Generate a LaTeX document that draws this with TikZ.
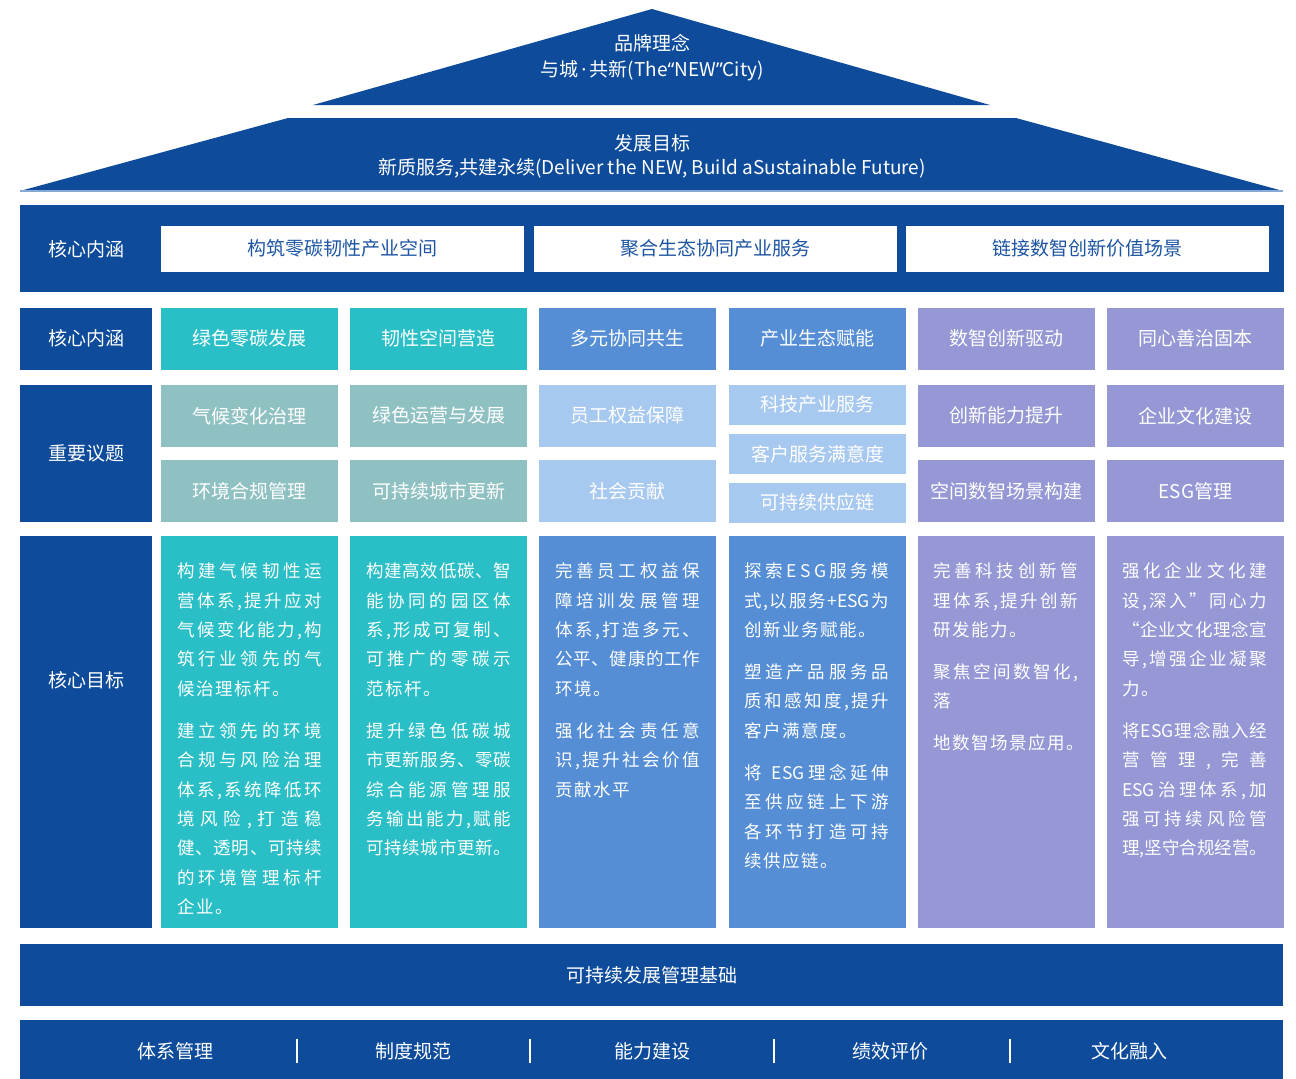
\documentclass[tikz,border=0pt]{standalone}
\usepackage{fontspec}
\setmainfont{Noto Sans CJK SC}
\newfontfamily\latinq{Noto Sans}
\definecolor{dblue}{HTML}{0E4C9B}
\definecolor{teal1}{HTML}{2ABFC6}
\definecolor{blue1}{HTML}{558ED5}
\definecolor{purp1}{HTML}{9598D5}
\definecolor{gteal}{HTML}{8FC1C3}
\definecolor{lblue}{HTML}{A7C8EF}
\definecolor{tblue}{HTML}{1D55A3}
\definecolor{edgeline}{HTML}{86A9D6}
\makeatletter
\def\jglue{\hskip 1.5pt plus 1fill minus 2.5pt}
\def\nglue{\hskip 1.5pt}
\newcommand\trk[2]{\let\trk@sep\relax\@tfor\trk@x:=#2\do{\trk@sep\trk@x\let\trk@sep#1}}
\newcommand\jfull[1]{\hbox to\hsize{\trk\jglue{#1}}}
\newcommand\jnat[1]{\hbox{\trk\nglue{#1}}}
\makeatother
\newcommand\pgap{\vskip 12.6pt}
\newcommand\myLq{{\latinq “}}
\newcommand\myRq{{\latinq ”}}
\newcommand\myDot{{\latinq\,·\,}}
\tikzset{
  shade1/.style={fill=dblue, draw=none},
  cell/.style={draw=none, inner sep=0, text=white, font=\fontsize{19}{22}\selectfont},
  labbox/.style={cell, fill=dblue, minimum width=132pt},
  colbox/.style={cell, minimum width=177pt},
  whitebox/.style={cell, fill=white, text=tblue, minimum height=45.5pt},
  lbl/.style={inner sep=0, text=white, font=\fontsize{19}{22}\selectfont},
  body/.style={inner sep=0, text=white, anchor=base west, font=\fontsize{17.5}{29.4}\selectfont},
  sepline/.style={draw=white, line width=1.3pt},
}
\begin{document}
\begin{tikzpicture}[x=1pt,y=-1pt]
\useasboundingbox (0,0) rectangle (1296,1079);
% roof
\fill[shade1] (652,9) -- (990,105) -- (313,105) -- cycle;
\node[lbl, align=center, font=\fontsize{19}{26}\selectfont] (brand) at (652,58) {品牌理念\\与城\myDot 共新(The\myLq NEW\myRq City)};
\fill[shade1] (288,118) -- (1016,118) -- (1283,191) -- (20,191) -- cycle;
\draw[edgeline, line width=1.2pt] (20,191) -- (1283,191);
\node[lbl, align=center, font=\fontsize{19}{24}\selectfont] (goal) at (652,156) {发展目标\\新质服务,共建永续(Deliver the NEW, Build aSustainable Future)};
% row 1
\node[cell, fill=dblue, minimum width=1264pt, minimum height=87pt] (row1) at (652,248.5) {};
\node[lbl] (row1lab) at (86,249) {核心内涵};
\node[whitebox, minimum width=363pt] (w1) at (342.5,248.75) {构筑零碳韧性产业空间};
\node[whitebox, minimum width=362.5pt] (w2) at (715.25,248.75) {聚合生态协同产业服务};
\node[whitebox, minimum width=363pt] (w3) at (1087.5,248.75) {链接数智创新价值场景};
% row 2
\node[labbox, minimum height=61.5pt] (r2lab) at (86,338.75) {核心内涵};
\node[colbox, fill=teal1, minimum height=61.5pt] (r2c1) at (249.5,338.75) {绿色零碳发展};
\node[colbox, fill=teal1, minimum height=61.5pt] (r2c2) at (438.5,338.75) {韧性空间营造};
\node[colbox, fill=blue1, minimum height=61.5pt] (r2c3) at (627.5,338.75) {多元协同共生};
\node[colbox, fill=blue1, minimum height=61.5pt] (r2c4) at (817.5,338.75) {产业生态赋能};
\node[colbox, fill=purp1, minimum height=61.5pt] (r2c5) at (1006.5,338.75) {数智创新驱动};
\node[colbox, fill=purp1, minimum height=61.5pt] (r2c6) at (1195.5,338.75) {同心善治固本};
% row 3
\node[labbox, minimum height=137pt] (r3lab) at (86,453.5) {重要议题};
\node[colbox, fill=gteal, minimum height=61.5pt] (r3c1a) at (249.5,415.75) {气候变化治理};
\node[colbox, fill=gteal, minimum height=62pt] (r3c1b) at (249.5,491) {环境合规管理};
\node[colbox, fill=gteal, minimum height=61.5pt] (r3c2a) at (438.5,415.75) {绿色运营与发展};
\node[colbox, fill=gteal, minimum height=62pt] (r3c2b) at (438.5,491) {可持续城市更新};
\node[colbox, fill=lblue, minimum height=61.5pt] (r3c3a) at (627.5,415.75) {员工权益保障};
\node[colbox, fill=lblue, minimum height=62pt] (r3c3b) at (627.5,491) {社会贡献};
\node[colbox, fill=lblue, minimum height=39.5pt] (r3c4a) at (817.5,404.75) {科技产业服务};
\node[colbox, fill=lblue, minimum height=39.5pt] (r3c4b) at (817.5,453.75) {客户服务满意度};
\node[colbox, fill=lblue, minimum height=39.5pt] (r3c4c) at (817.5,502.75) {可持续供应链};
\node[colbox, fill=purp1, minimum height=61.5pt] (r3c5a) at (1006.5,415.75) {创新能力提升};
\node[colbox, fill=purp1, minimum height=62pt] (r3c5b) at (1006.5,491) {空间数智场景构建};
\node[colbox, fill=purp1, minimum height=61.5pt] (r3c6a) at (1195.5,415.75) {企业文化建设};
\node[colbox, fill=purp1, minimum height=62pt] (r3c6b) at (1195.5,491) {ESG管理};
% row 4
\node[labbox, minimum height=392pt] (r4lab) at (86,732) {};
\node[lbl] (r4labt) at (86,680) {核心目标};
\node[colbox, fill=teal1, minimum height=392pt] (r4c1) at (249.5,732) {};
\node[colbox, fill=teal1, minimum height=392pt] (r4c2) at (438.5,732) {};
\node[colbox, fill=blue1, minimum height=392pt] (r4c3) at (627.5,732) {};
\node[colbox, fill=blue1, minimum height=392pt] (r4c4) at (817.5,732) {};
\node[colbox, fill=purp1, minimum height=392pt] (r4c5) at (1006.5,732) {};
\node[colbox, fill=purp1, minimum height=392pt] (r4c6) at (1195.5,732) {};
\node[body] (t1) at (177,577.6) {\parbox[t]{145pt}{%
\jfull{构建气候韧性运}\jfull{营体系,提升应对}\jfull{气候变化能力,构}\jfull{筑行业领先的气}\jnat{候治理标杆。}\pgap
\jfull{建立领先的环境}\jfull{合规与风险治理}\jfull{体系,系统降低环}\jfull{境风险,打造稳}\jfull{健、透明、可持续}\jfull{的环境管理标杆}\jnat{企业。}}};
\node[body] (t2) at (366,577.6) {\parbox[t]{145pt}{%
\jfull{构建高效低碳、智}\jfull{能协同的园区体}\jfull{系,形成可复制、}\jfull{可推广的零碳示}\jnat{范标杆。}\pgap
\jfull{提升绿色低碳城}\jfull{市更新服务、零碳}\jfull{综合能源管理服}\jfull{务输出能力,赋能}\jfull{可持续城市更新。}}};
\node[body] (t3) at (555,577.6) {\parbox[t]{145pt}{%
\jfull{完善员工权益保}\jfull{障培训发展管理}\jfull{体系,打造多元、}\jfull{公平、健康的工作}\jnat{环境。}\pgap
\jfull{强化社会责任意}\jfull{识,提升社会价值}\jnat{贡献水平}}};
\node[body] (t4) at (744,577.6) {\parbox[t]{145pt}{%
\jfull{探索ESG服务模}\jfull{式,以服务{+ESG}为}\jnat{创新业务赋能。}\pgap
\jfull{塑造产品服务品}\jfull{质和感知度,提升}\jnat{客户满意度。}\pgap
\hbox to\hsize{将\hskip 10pt\trk\jglue{{ESG}理念延伸}}\jfull{至供应链上下游}\jfull{各环节打造可持}\jnat{续供应链。}}};
\node[body] (t5) at (933,577.6) {\parbox[t]{145pt}{%
\jfull{完善科技创新管}\jfull{理体系,提升创新}\jnat{研发能力。}\pgap
\jfull{聚焦空间数智化,}\jnat{落}\pgap
\jnat{地数智场景应用。}}};
\node[body] (t6) at (1122,577.6) {\parbox[t]{145pt}{%
\jfull{强化企业文化建}\jfull{设,深入”同心力}\jfull{“企业文化理念宣}\jfull{导,增强企业凝聚}\jnat{力。}\pgap
\jfull{将{ESG}理念融入经}\jfull{营管理,完善}\jfull{{ESG}治理体系,加}\jfull{强可持续风险管}\jfull{理,坚守合规经营。}}};
% foundation
\node[cell, fill=dblue, minimum width=1263pt, minimum height=62pt] (base1) at (651.5,975) {可持续发展管理基础};
\node[cell, fill=dblue, minimum width=1263pt, minimum height=59pt] (base2) at (651.5,1049.5) {};
\node[lbl] (f1) at (175,1051) {体系管理};
\node[lbl] (f2) at (413,1051) {制度规范};
\node[lbl] (f3) at (652,1051) {能力建设};
\node[lbl] (f4) at (890,1051) {绩效评价};
\node[lbl] (f5) at (1129,1051) {文化融入};
\foreach \x/\n in {297/s1,530/s2,774/s3,1010/s4}{
  \coordinate (\n t) at (\x,1039);
  \coordinate (\n b) at (\x,1063);
  \draw[sepline] (\n t) -- (\n b);
}
\end{tikzpicture}
\end{document}
